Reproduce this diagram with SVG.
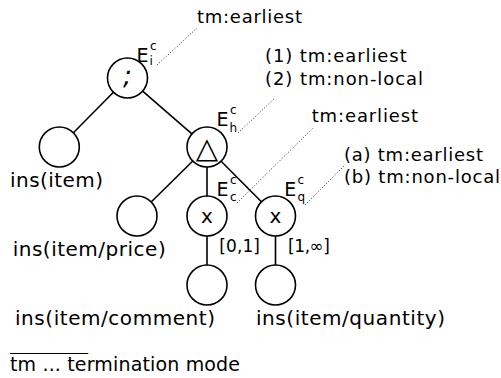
<svg xmlns="http://www.w3.org/2000/svg" width="501" height="378" viewBox="0 0 501 378">
<style>
text{font-family:"DejaVu Sans","Verdana",sans-serif;fill:#000}
.node{fill:#fff;stroke:#000;stroke-width:1.6}
.edge{stroke:#000;stroke-width:1.6;fill:none}
.dot{stroke:#222;stroke-width:1;stroke-dasharray:1 2;fill:none}
.lbl{font-size:20px}
.ann{font-size:18px}
.E{font-size:19px}
.s{font-size:12px}
.card{font-size:17px}
.op{text-anchor:middle}
</style>
<rect width="501" height="378" fill="#fff"/>
<g id="connectors">
<line class="edge" x1="113.4" y1="92.2" x2="73.4" y2="132.8"/>
<line class="edge" x1="142.6" y1="91.1" x2="191.9" y2="133.9"/>
<line class="edge" x1="192.8" y1="161" x2="151.2" y2="202"/>
<line class="edge" x1="207" y1="167" x2="207" y2="196"/>
<line class="edge" x1="221.1" y1="161.2" x2="261.4" y2="201.8"/>
<line class="edge" x1="207" y1="236" x2="207" y2="265"/>
<line class="edge" x1="275.5" y1="236" x2="275.5" y2="265"/>
<line class="dot" x1="157" y1="65" x2="197" y2="28"/>
<line class="dot" x1="238" y1="133" x2="275" y2="98"/>
<line class="dot" x1="237" y1="203" x2="313" y2="128"/>
<line class="dot" x1="305" y1="205" x2="345" y2="165"/>
</g>
<g id="n-root">
<circle class="node" cx="127.5" cy="78" r="20"/>
<text class="op" x="127.5" y="85" font-size="26" font-style="italic">;</text>
</g>
<g id="n-item">
<circle class="node" cx="59.3" cy="147" r="20"/>
<text class="lbl" x="10" y="187" textLength="93" lengthAdjust="spacing">ins(item)</text>
</g>
<g id="n-delta">
<circle class="node" cx="207" cy="147" r="20"/>
<text class="op" x="207" y="158" font-size="29">△</text>
</g>
<g id="n-price">
<circle class="node" cx="137" cy="216" r="20"/>
<text class="lbl" x="12.7" y="256" textLength="153" lengthAdjust="spacing">ins(item/price)</text>
</g>
<g id="n-x1">
<circle class="node" cx="207" cy="216" r="20"/>
<text class="op" x="207" y="222.5" font-size="20">x</text>
</g>
<g id="n-x2">
<circle class="node" cx="275.5" cy="216" r="20"/>
<text class="op" x="275.5" y="222.5" font-size="20">x</text>
</g>
<g id="n-comment">
<circle class="node" cx="207" cy="285" r="20"/>
<text class="lbl" x="15" y="325" textLength="200" lengthAdjust="spacing">ins(item/comment)</text>
</g>
<g id="n-quantity">
<circle class="node" cx="275.5" cy="285" r="20"/>
<text class="lbl" x="256" y="325" textLength="189" lengthAdjust="spacing">ins(item/quantity)</text>
</g>
<g id="labels">
<text class="E" x="136.5" y="61.5">E</text><text class="s" x="150" y="49.5">c</text><text class="s" x="149.5" y="65">i</text>
<text class="E" x="216.5" y="126">E</text><text class="s" x="230" y="114">c</text><text class="s" x="229.5" y="132">h</text>
<text class="E" x="216.5" y="196">E</text><text class="s" x="230" y="184">c</text><text class="s" x="230" y="201">c</text>
<text class="E" x="284.2" y="196">E</text><text class="s" x="297.5" y="184">c</text><text class="s" x="297.5" y="201">q</text>
<text class="ann" x="197" y="22.7" textLength="105" lengthAdjust="spacing">tm:earliest</text>
<text class="ann" x="265" y="61.7" textLength="141.7" lengthAdjust="spacing">(1) tm:earliest</text>
<text class="ann" x="265" y="85" textLength="158" lengthAdjust="spacing">(2) tm:non-local</text>
<text class="ann" x="311.7" y="121.7" textLength="106.3" lengthAdjust="spacing">tm:earliest</text>
<text class="ann" x="344" y="160.7" textLength="139" lengthAdjust="spacing">(a) tm:earliest</text>
<text class="ann" x="344" y="183" textLength="156" lengthAdjust="spacing">(b) tm:non-local</text>
<text class="card" x="219.3" y="251.7" textLength="40.7" lengthAdjust="spacing">[0,1]</text>
<text class="card" x="288" y="251.7" textLength="42" lengthAdjust="spacing">[1,∞]</text>
</g>
<g id="legend">
<line x1="10" y1="353.5" x2="88.3" y2="353.5" stroke="#000" stroke-width="1"/>
<text font-size="19" x="10" y="371" textLength="230" lengthAdjust="spacing">tm ... termination mode</text>
</g>
</svg>
